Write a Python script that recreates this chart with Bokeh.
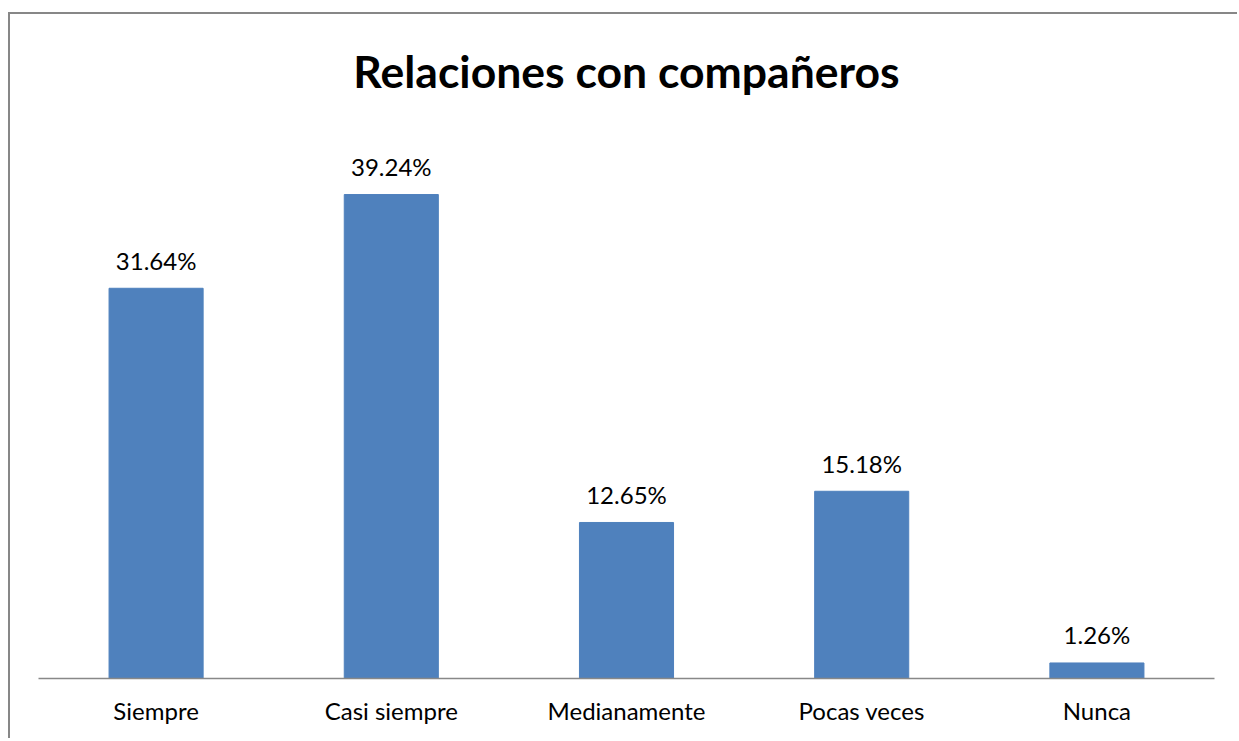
from bokeh.plotting import figure
from bokeh.models import ColumnDataSource, LabelSet, Range1d
from bokeh.core.properties import value
from bokeh.embed import file_html
from bokeh.resources import INLINE

categories = ["Siempre", "Casi siempre", "Medianamente", "Pocas veces", "Nunca"]
percentages = [31.64, 39.24, 12.65, 15.18, 1.26]
labels = ["31.64%", "39.24%", "12.65%", "15.18%", "1.26%"]
title_text = "Relaciones con compañeros"

source = ColumnDataSource(data=dict(cat=categories, pct=percentages, lbl=labels))

FONT = "Lato"

p = figure(
    x_range=categories,
    y_range=Range1d(0, 45),
    width=1229,
    height=726,
    output_backend="svg",
    toolbar_location=None,
    min_border_left=28,
    min_border_right=25,
    min_border_top=109,
    min_border_bottom=62,
    title=title_text,
)
p.styles = {"border-left": "2px solid #878787", "border-top": "2px solid #878787",
            "margin-top": "12px", "margin-left": "8px"}

p.title.text_font = FONT
p.title.text_font_size = "44.5px"
p.title.text_font_style = "bold"
p.title.text_color = "black"
p.title.align = "center"
p.title.standoff = 54

p.vbar(x="cat", top="pct", width=0.4, source=source, fill_color="#4F81BD", line_color="#4F81BD")

lbls = LabelSet(x="cat", y="pct", text="lbl", source=source, y_offset=28,
                text_align="center", text_baseline="middle",
                text_font=value(FONT), text_font_size="24px", text_color="black")
p.add_layout(lbls)

p.yaxis.visible = False
p.xgrid.visible = False
p.ygrid.visible = False
p.outline_line_color = None

ax = p.xaxis[0]
ax.axis_line_color = "#888888"
ax.axis_line_width = 1.5
ax.major_tick_line_color = None
ax.minor_tick_line_color = None
ax.major_label_text_font = FONT
ax.major_label_text_font_size = "24px"
ax.major_label_text_color = "black"
ax.major_label_standoff = 11

open("out.html", "w").write(file_html(p, INLINE))
